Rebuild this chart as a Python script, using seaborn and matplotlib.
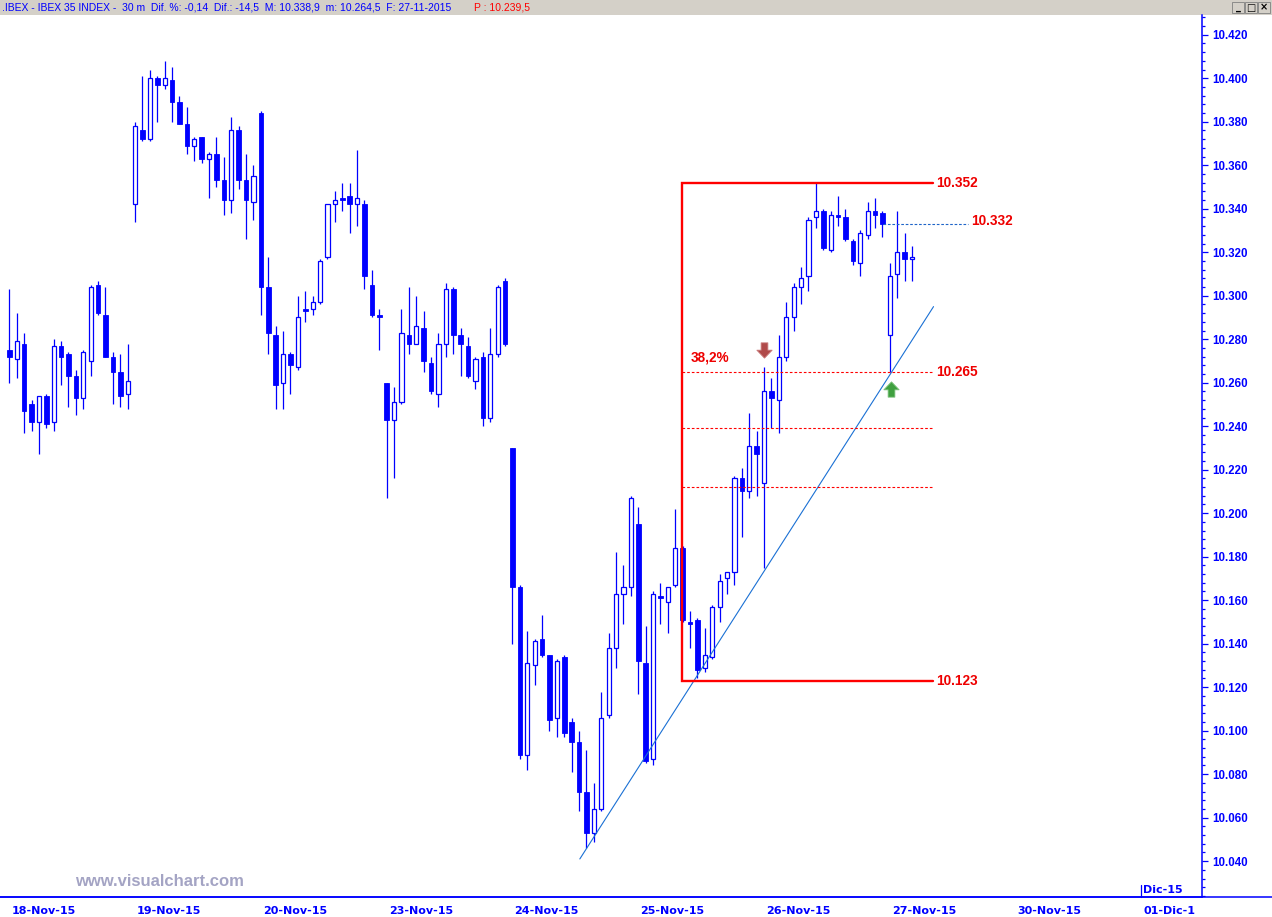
import numpy as np
import pandas as pd
import matplotlib
matplotlib.use("Agg")
import matplotlib.pyplot as plt
import seaborn as sns
from matplotlib.path import Path
from matplotlib.lines import Line2D
from matplotlib.patches import Rectangle
from matplotlib.ticker import FixedLocator, MultipleLocator, FuncFormatter
import matplotlib.transforms as mtransforms

sns.set_style("white")
plt.rcParams['font.family'] = ['Liberation Sans', 'DejaVu Sans']

# ---------------- data (30-minute bars, IBEX 35) ----------------
day_labels = ['18-Nov-15', '19-Nov-15', '20-Nov-15', '23-Nov-15', '24-Nov-15',
              '25-Nov-15', '26-Nov-15', '27-Nov-15', '30-Nov-15', '01-Dic-1']
bars_per_day = 17

open_ = [
    # 18-Nov
    10275, 10271, 10278, 10250, 10242, 10254, 10242, 10277, 10273, 10263, 10253, 10270, 10305, 10291, 10272, 10265, 10255,
    # 19-Nov
    10342, 10376, 10372, 10400, 10397, 10399, 10389, 10379, 10369, 10373, 10363, 10365, 10353, 10344, 10376, 10353, 10343,
    # 20-Nov
    10384, 10304, 10282, 10260, 10273, 10267, 10294, 10294, 10297, 10318, 10342, 10345, 10346, 10342, 10342, 10305, 10291,
    # 23-Nov
    10260, 10243, 10251, 10282, 10278, 10285, 10269, 10255, 10278, 10303, 10282, 10277, 10261, 10272, 10244, 10273, 10307,
    # 24-Nov
    10230, 10166, 10089, 10130, 10142, 10135, 10106, 10134, 10104, 10095, 10072, 10053, 10064, 10107, 10138, 10163, 10166,
    # 25-Nov
    10195, 10131, 10087, 10162, 10159, 10167, 10184, 10150, 10151, 10129, 10134, 10157, 10170, 10173, 10216, 10210, 10231,
    # 26-Nov
    10214, 10256, 10252, 10272, 10290, 10304, 10309, 10336, 10339, 10321, 10337, 10336, 10325, 10315, 10328, 10339, 10338,
    # 27-Nov
    10282, 10310, 10320, 10317,
]
high = [
    10303, 10292, 10283, 10252, 10254, 10255, 10280, 10279, 10274, 10266, 10275, 10305, 10307, 10304, 10274, 10273, 10278,
    10380, 10401, 10404, 10401, 10408, 10405, 10392, 10387, 10373, 10373, 10366, 10373, 10364, 10382, 10378, 10365, 10360,
    10385, 10318, 10286, 10284, 10274, 10300, 10302, 10300, 10317, 10342, 10348, 10352, 10352, 10367, 10344, 10312, 10294,
    10260, 10258, 10294, 10304, 10300, 10293, 10272, 10283, 10306, 10304, 10285, 10281, 10272, 10274, 10285, 10305, 10308,
    10230, 10167, 10146, 10142, 10153, 10135, 10133, 10135, 10106, 10100, 10091, 10076, 10118, 10145, 10182, 10176, 10208,
    10203, 10148, 10164, 10168, 10166, 10202, 10185, 10155, 10152, 10147, 10158, 10172, 10173, 10217, 10221, 10246, 10238,
    10267, 10262, 10282, 10297, 10306, 10313, 10336, 10352, 10340, 10339, 10346, 10340, 10326, 10330, 10343, 10345, 10339,
    10315, 10339, 10329, 10323,
]
low = [
    10260, 10262, 10237, 10238, 10227, 10239, 10238, 10259, 10249, 10245, 10248, 10263, 10291, 10272, 10250, 10249, 10248,
    10334, 10371, 10371, 10380, 10395, 10380, 10379, 10365, 10362, 10361, 10345, 10350, 10337, 10338, 10349, 10326, 10335,
    10291, 10273, 10248, 10248, 10255, 10266, 10288, 10291, 10296, 10317, 10334, 10339, 10329, 10332, 10303, 10290, 10275,
    10207, 10216, 10250, 10273, 10278, 10265, 10255, 10249, 10272, 10273, 10263, 10262, 10257, 10240, 10242, 10272, 10277,
    10140, 10087, 10082, 10121, 10134, 10100, 10097, 10097, 10081, 10063, 10046, 10049, 10063, 10106, 10129, 10149, 10162,
    10117, 10085, 10084, 10149, 10145, 10166, 10150, 10138, 10124, 10127, 10133, 10150, 10163, 10167, 10189, 10207, 10208,
    10175, 10239, 10237, 10270, 10284, 10296, 10302, 10331, 10321, 10320, 10332, 10325, 10314, 10309, 10326, 10331, 10327,
    10265, 10299, 10307, 10307,
]
close = [
    10272, 10279, 10247, 10242, 10254, 10241, 10277, 10272, 10263, 10253, 10274, 10304, 10292, 10272, 10265, 10254, 10261,
    10378, 10372, 10400, 10397, 10400, 10389, 10379, 10369, 10372, 10363, 10365, 10353, 10344, 10376, 10353, 10344, 10355,
    10304, 10283, 10259, 10273, 10268, 10290, 10293, 10297, 10316, 10342, 10344, 10344, 10342, 10345, 10309, 10291, 10290,
    10243, 10251, 10283, 10278, 10286, 10270, 10256, 10278, 10303, 10282, 10278, 10263, 10271, 10244, 10273, 10304, 10278,
    10166, 10089, 10131, 10141, 10135, 10105, 10132, 10099, 10095, 10072, 10053, 10064, 10106, 10138, 10163, 10166, 10207,
    10132, 10086, 10163, 10161, 10166, 10184, 10151, 10149, 10128, 10135, 10157, 10169, 10173, 10216, 10210, 10231, 10227,
    10256, 10253, 10272, 10290, 10304, 10308, 10335, 10339, 10322, 10337, 10336, 10326, 10316, 10329, 10339, 10337, 10333,
    10309, 10320, 10317, 10318,
]

# Fibonacci study
fib_high = 10352
fib_low = 10123
fib_levels = [10265, 10239, 10212]
fib_label_382 = '38,2%'
fib_start_bar = 90.9
fib_end_bar = 124.8
last_close_level = 10333
last_close_label = '10.332'
support_label = '10.265'

# trend line (support)
trend_x = [77.1, 124.9]
trend_y = [10041, 10295]

# signal arrows
arrow_down = (102.0, 10275)
arrow_up = (119.1, 10257)

header_text = ('.IBEX - IBEX 35 INDEX -  30 m  Dif. %: -0,14  Dif.: -14,5  '
               'M: 10.338,9  m: 10.264,5  F: 27-11-2015')
header_red = 'P : 10.239,5'

# ---------------- figure ----------------
W, H = 1272, 917
BLUE = '#0000ff'
RED = '#ff0000'
fig = plt.figure(figsize=(W / 100, H / 100), dpi=100)
fig.patch.set_facecolor('white')

ax_left, ax_right, ax_top, ax_bot = 0, 1202, 15, 897
ax = fig.add_axes([ax_left / W, (H - ax_bot) / H, (ax_right - ax_left) / W, (ax_bot - ax_top) / H])
ax.set_facecolor('white')

df = pd.DataFrame({'o': open_, 'h': high, 'l': low, 'c': close})
df['x'] = np.arange(len(df))
df['up'] = df['c'] >= df['o']

# wicks
ax.vlines(df['x'], df['l'], df['h'], color=BLUE, lw=0.9, zorder=2)
# bodies
up = df[df['up']]
dn = df[~df['up']]
ax.bar(up['x'], (up['c'] - up['o']).clip(lower=0.6), bottom=up['o'], width=0.58,
       facecolor='white', edgecolor=BLUE, linewidth=0.9, zorder=3)
ax.bar(dn['x'], (dn['o'] - dn['c']).clip(lower=0.6), bottom=dn['c'], width=0.62,
       facecolor=BLUE, edgecolor=BLUE, linewidth=0.6, zorder=3)

# trend line through seaborn
sns.lineplot(x=trend_x, y=trend_y, ax=ax, color='#1a70d4', lw=0.8, zorder=4)

# Fibonacci box
ax.plot([fib_end_bar, fib_start_bar, fib_start_bar, fib_end_bar],
        [fib_high, fib_high, fib_low, fib_low], color=RED, lw=1.7, zorder=5,
        solid_joinstyle='miter')
ax.hlines(fib_levels, fib_start_bar, fib_end_bar, colors=RED, lw=0.8,
          linestyles=(0, (2.4, 1.8)), zorder=5)
ax.hlines([last_close_level], 118.1, 129.6, colors='#1e64c8', lw=0.8,
          linestyles=(0, (2.4, 1.6)), zorder=5)

lab_kw = dict(color='#ee0000', fontsize=9.8, fontweight='bold', va='center', ha='left',
              family=['Liberation Sans', 'DejaVu Sans'], zorder=6)
ax.text(125.2, fib_high, f'{fib_high/1000:.3f}', **lab_kw)
ax.text(125.2, fib_low, f'{fib_low/1000:.3f}', **lab_kw)
ax.text(125.2, fib_levels[0], support_label, **lab_kw)
ax.text(130.0, last_close_level + 1.5, last_close_label, **lab_kw)
ax.text(92.1, 10271.5, fib_label_382, **lab_kw)

# arrows as custom markers
down_path = Path([(-0.22, 0.5), (0.22, 0.5), (0.22, 0.02), (0.5, 0.02), (0.0, -0.5),
                  (-0.5, 0.02), (-0.22, 0.02), (-0.22, 0.5)],
                 [Path.MOVETO] + [Path.LINETO] * 6 + [Path.CLOSEPOLY])
up_path = Path([(-0.22, -0.5), (0.22, -0.5), (0.22, -0.02), (0.5, -0.02), (0.0, 0.5),
                (-0.5, -0.02), (-0.22, -0.02), (-0.22, -0.5)],
               [Path.MOVETO] + [Path.LINETO] * 6 + [Path.CLOSEPOLY])
ax.plot([arrow_down[0]], [arrow_down[1]], marker=down_path, markersize=11,
        color='#b04a4a', markeredgecolor='#c87878', markeredgewidth=0.6, zorder=6)
ax.plot([arrow_up[0]], [arrow_up[1]], marker=up_path, markersize=11,
        color='#40a040', markeredgecolor='#78c078', markeredgewidth=0.6, zorder=6)

# axes limits
ax.set_xlim(-1.257, 161.18)
ax.set_ylim(10023.5, 10429.1)

# spines
for s in ['top', 'left']:
    ax.spines[s].set_visible(False)
ax.spines['right'].set_color(BLUE)
ax.spines['right'].set_linewidth(1.1)
ax.spines['bottom'].set_color(BLUE)
ax.spines['bottom'].set_linewidth(1.1)

# y axis on the right
ax.yaxis.tick_right()
yt = list(range(10040, 10421, 20))
ax.yaxis.set_major_locator(FixedLocator(yt))
ax.yaxis.set_major_formatter(FuncFormatter(lambda v, p: f'{v/1000:.3f}'))
ax.yaxis.set_minor_locator(MultipleLocator(4))
ax.tick_params(axis='y', which='major', direction='out', length=4.2, width=0.9,
               colors=BLUE, pad=3.4, labelsize=8.3)
ax.tick_params(axis='y', which='minor', direction='out', length=2.4, width=0.9, colors=BLUE)
for t in ax.get_yticklabels():
    t.set_fontweight('bold')
    t.set_family(['Liberation Sans', 'DejaVu Sans'])

# x axis: day ticks
xt = [i * bars_per_day for i in range(len(day_labels))]
ax.set_xticks(xt)
ax.set_xticklabels(day_labels)
ax.tick_params(axis='x', which='major', direction='out', length=6.5, width=0.9,
               colors=BLUE, pad=0.3, labelsize=8)
offset = mtransforms.ScaledTranslation(2 / 100, 0, fig.dpi_scale_trans)
for t in ax.get_xticklabels():
    t.set_ha('left')
    t.set_fontweight('bold')
    t.set_family(['DejaVu Sans'])
    t.set_transform(t.get_transform() + offset)
ax.grid(False)

# month marker "Dic-15"
px = mtransforms.blended_transform_factory(ax.transData, fig.transFigure)
ax.add_line(Line2D([xt[-1], xt[-1]], [(H - 897) / H, (H - 885) / H], transform=px,
                   color=BLUE, lw=0.9, clip_on=False))
ax.text(xt[-1], (H - 890) / H, 'Dic-15', transform=px + offset,
        color=BLUE, fontsize=8, fontweight='bold', family=['DejaVu Sans'],
        ha='left', va='center', clip_on=False)

# bottom axis line extends under the price scale
fig.add_artist(Line2D([0, 1], [(H - 897) / H, (H - 897) / H], transform=fig.transFigure,
                      color=BLUE, lw=1.1))

# header strip
fig.add_artist(Rectangle((0, (H - 14.5) / H), 1, 14.5 / H, transform=fig.transFigure,
                         facecolor='#d4d0c8', edgecolor='none', zorder=0))
fig.text(2 / W, 1 - 7.5 / H, header_text, color=BLUE, fontsize=7.5, ha='left', va='center',
         family=['Liberation Sans', 'DejaVu Sans'])
fig.text(474 / W, 1 - 7.5 / H, header_red, color=RED, fontsize=7.5, ha='left', va='center',
         family=['Liberation Sans', 'DejaVu Sans'])
# window buttons
for i, g in enumerate(['_', '□', '×']):
    x0 = 1232 + i * 13
    fig.add_artist(Rectangle((x0 / W, 1 - 13 / H), 12 / W, 11 / H, transform=fig.transFigure,
                             facecolor='#d4d0c8', edgecolor='#808080', lw=0.6))
    fig.text((x0 + 6) / W, 1 - 7.5 / H, g, color='black', fontsize=7, ha='center', va='center',
             family=['DejaVu Sans'], fontweight='bold')

# watermark
fig.text(75 / W, 1 - 881 / H, 'www.visualchart.com', color='#a4a4c4', fontsize=12,
         fontweight='bold', ha='left', va='center', family=['Liberation Sans', 'DejaVu Sans'])

fig.savefig('out.png', dpi=100)
